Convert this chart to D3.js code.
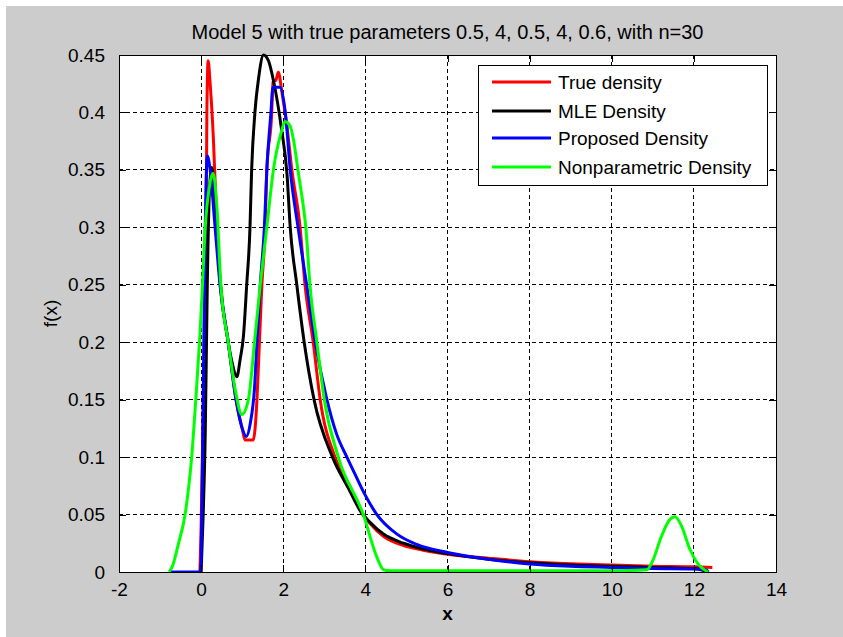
<!DOCTYPE html>
<html><head><meta charset="utf-8">
<script src="https://cdn.jsdelivr.net/npm/d3@7/dist/d3.min.js"></script>
<style>
body{margin:0;background:#ffffff;}
text{font-family:"Liberation Sans",Arial,Helvetica,sans-serif;fill:#000;}
</style>
</head><body>
<svg id="chart" width="843" height="637"></svg>
<script>
// ---- data ----
const titleText = "Model 5 with true parameters 0.5, 4, 0.5, 4, 0.6, with n=30";
const xTicks = [-2, 0, 2, 4, 6, 8, 10, 12, 14];
const yTicks = [0, 0.05, 0.1, 0.15, 0.2, 0.25, 0.3, 0.35, 0.4, 0.45];
const seriesNames = ["True density", "MLE Density", "Proposed Density", "Nonparametric Density"];
const seriesColors = ["#ff0000", "#000000", "#0000ff", "#00ff00"];

const trueX = [-0.03, 0.0, 0.04, 0.06, 0.1, 0.12, 0.14, 0.17, 0.22, 0.3, 0.38, 0.46, 0.66, 0.85, 1.0, 1.07, 1.27, 1.36, 1.42, 1.48, 1.56, 1.6, 1.72, 1.75, 1.82, 1.88, 1.97, 2.09, 2.21, 2.41, 2.53, 2.73, 2.9, 3.26, 3.63, 3.87, 4.12, 4.44, 4.93, 5.41, 6, 7, 8, 9, 10, 11, 12, 12.45];
const trueY = [0, 0.04, 0.12, 0.155, 0.25, 0.29, 0.4, 0.445, 0.425, 0.376, 0.305, 0.255, 0.2, 0.15, 0.125, 0.115, 0.115, 0.15, 0.2, 0.25, 0.3, 0.35, 0.4, 0.427, 0.428, 0.435, 0.417, 0.388, 0.35, 0.3, 0.25, 0.2, 0.15, 0.1, 0.074, 0.054, 0.042, 0.031, 0.023, 0.019, 0.0155, 0.012, 0.009, 0.0072, 0.006, 0.005, 0.0045, 0.004];

const mleX = [0.0, 0.05, 0.1, 0.15, 0.2, 0.26, 0.34, 0.46, 0.66, 0.75, 0.87, 0.95, 1.03, 1.11, 1.19, 1.23, 1.31, 1.4, 1.52, 1.64, 1.76, 1.96, 2.09, 2.17, 2.33, 2.51, 2.75, 3.2, 3.6, 3.88, 4.12, 4.44, 4.93, 5.41, 6, 7, 8, 9, 10, 11, 12, 12.35];
const mleY = [0, 0.05, 0.12, 0.25, 0.33, 0.352, 0.32, 0.255, 0.2, 0.183, 0.17, 0.185, 0.205, 0.25, 0.3, 0.35, 0.4, 0.43, 0.45, 0.445, 0.428, 0.385, 0.347, 0.3, 0.25, 0.2, 0.15, 0.1, 0.072, 0.053, 0.043, 0.033, 0.025, 0.02, 0.016, 0.011, 0.008, 0.006, 0.005, 0.004, 0.003, 0.0];

const propX = [-0.75, -0.02, 0.0, 0.05, 0.1, 0.15, 0.22, 0.34, 0.46, 0.66, 0.85, 1.0, 1.1, 1.2, 1.3, 1.36, 1.44, 1.54, 1.6, 1.7, 1.75, 1.92, 2.05, 2.17, 2.36, 2.57, 2.78, 3.05, 3.3, 3.55, 3.75, 3.98, 4.28, 4.77, 5.25, 6, 7, 8, 9, 10, 11, 12, 12.3, 12.35];
const propY = [0, 0, 0.01, 0.15, 0.3, 0.362, 0.35, 0.3, 0.25, 0.2, 0.15, 0.125, 0.118, 0.13, 0.16, 0.2, 0.25, 0.3, 0.35, 0.4, 0.422, 0.422, 0.4, 0.35, 0.3, 0.25, 0.2, 0.152, 0.12, 0.1, 0.085, 0.068, 0.05, 0.033, 0.024, 0.017, 0.011, 0.007, 0.005, 0.004, 0.003, 0.0026, 0.002, 0];

const npX = [-0.78, -0.7, -0.55, -0.39, -0.3, -0.23, -0.13, -0.04, 0.02, 0.1, 0.2, 0.29, 0.38, 0.48, 0.66, 0.85, 0.99, 1.15, 1.3, 1.44, 1.6, 1.76, 1.93, 2.05, 2.17, 2.25, 2.37, 2.49, 2.55, 2.65, 2.82, 3.0, 3.34, 3.95, 4.28, 4.44, 4.6, 6, 8, 10, 10.85, 11.0, 11.2, 11.4, 11.54, 11.7, 11.9, 12.1, 12.35];
const npY = [0, 0.005, 0.025, 0.05, 0.075, 0.1, 0.15, 0.2, 0.24, 0.3, 0.335, 0.347, 0.32, 0.25, 0.2, 0.155, 0.137, 0.15, 0.2, 0.25, 0.3, 0.35, 0.38, 0.392, 0.388, 0.376, 0.347, 0.318, 0.3, 0.25, 0.2, 0.15, 0.1, 0.05, 0.013, 0.002, 0.001, 0.001, 0.001, 0.001, 0.002, 0.01, 0.03, 0.045, 0.048, 0.04, 0.02, 0.007, 0];

const seriesX = [trueX, mleX, propX, npX];
const seriesY = [trueY, mleY, propY, npY];

// ---- layout ----
const svg = d3.select("#chart");
const L = 119, R = 776, T = 55, B = 572;
const x = d3.scaleLinear().domain([-2, 14]).range([L, R]);
const y = d3.scaleLinear().domain([0, 0.45]).range([B, T]);

svg.append("rect").attr("x", 6).attr("y", 6).attr("width", 843 - 6).attr("height", 637 - 6).attr("fill", "#cccccc");
svg.append("rect").attr("x", L).attr("y", T).attr("width", R - L).attr("height", B - T).attr("fill", "#ffffff");

// grid
const grid = svg.append("g").attr("stroke", "#000").attr("stroke-width", 1).attr("stroke-dasharray", "4,3").attr("shape-rendering", "crispEdges");
xTicks.slice(1, -1).forEach(v => grid.append("line").attr("x1", x(v)).attr("x2", x(v)).attr("y1", T).attr("y2", B));
yTicks.slice(1, -1).forEach(v => grid.append("line").attr("y1", y(v)).attr("y2", y(v)).attr("x1", L).attr("x2", R));

// curves
svg.append("clipPath").attr("id", "clip").append("rect").attr("x", L).attr("y", T - 2).attr("width", R - L).attr("height", B - T + 2);
const line = d3.line().x(d => x(d[0])).y(d => y(d[1])).curve(d3.curveMonotoneX);
const curves = svg.append("g").attr("clip-path", "url(#clip)");
seriesX.forEach((xs, i) => {
  const pts = xs.map((v, j) => [v, seriesY[i][j]]);
  curves.append("path").attr("d", line(pts)).attr("fill", "none")
    .attr("stroke", seriesColors[i]).attr("stroke-width", 3).attr("stroke-linejoin", "miter");
});

// axes (MATLAB style: ticks inside, on all sides)
const tl = 7;
const axB = svg.append("g").attr("transform", `translate(0,${B})`)
  .call(d3.axisBottom(x).tickValues(xTicks).tickSize(-tl).tickPadding(tl + 4).tickFormat(d => String(d)));
const axT = svg.append("g").attr("transform", `translate(0,${T})`)
  .call(d3.axisTop(x).tickValues(xTicks).tickSize(-tl).tickFormat(""));
const axL = svg.append("g").attr("transform", `translate(${L},0)`)
  .call(d3.axisLeft(y).tickValues(yTicks).tickSize(-tl).tickPadding(tl + 7).tickFormat(d => String(d)));
const axR = svg.append("g").attr("transform", `translate(${R},0)`)
  .call(d3.axisRight(y).tickValues(yTicks).tickSize(-tl).tickFormat(""));
[axB, axT, axL, axR].forEach(g => {
  g.select(".domain").remove();
  g.selectAll(".tick line").attr("stroke", "#000").attr("shape-rendering", "crispEdges");
  g.selectAll("text").attr("font-size", 19).attr("font-family", '"Liberation Sans", Arial, sans-serif').attr("fill", "#000");
});
axB.selectAll("text").attr("dy", "0.71em");
svg.append("rect").attr("x", L).attr("y", T).attr("width", R - L).attr("height", B - T)
  .attr("fill", "none").attr("stroke", "#000").attr("stroke-width", 1).attr("shape-rendering", "crispEdges");

// title and labels
svg.append("text").attr("x", (L + R) / 2).attr("y", 39).attr("text-anchor", "middle").attr("font-size", 20).text(titleText);
svg.append("text").attr("x", (L + R) / 2).attr("y", 620).attr("text-anchor", "middle").attr("font-size", 19).attr("font-weight", "bold").text("x");
svg.append("text").attr("transform", `translate(57,${(T + B) / 2}) rotate(-90)`).attr("text-anchor", "middle").attr("font-size", 19).text("f(x)");

// legend
const lg = svg.append("g");
lg.append("rect").attr("x", 478).attr("y", 65).attr("width", 289).attr("height", 120)
  .attr("fill", "#fff").attr("stroke", "#000").attr("stroke-width", 1).attr("shape-rendering", "crispEdges");
const rowY = [82, 111, 138, 167];
seriesNames.forEach((n, i) => {
  lg.append("line").attr("x1", 492).attr("x2", 551).attr("y1", rowY[i]).attr("y2", rowY[i])
    .attr("stroke", seriesColors[i]).attr("stroke-width", 3);
  lg.append("text").attr("x", 558).attr("y", rowY[i]).attr("dy", "0.35em").attr("font-size", 19).text(n);
});
</script>
</body></html>
